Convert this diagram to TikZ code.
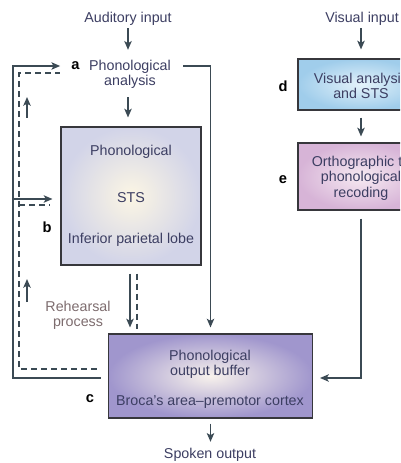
\documentclass[tikz,border=0pt]{standalone}
\usepackage{fontspec}
\setmainfont{Liberation Sans}
\usetikzlibrary{arrows.meta}
\definecolor{lc}{RGB}{59,74,84}
\definecolor{tc}{RGB}{60,62,98}
\definecolor{rc}{RGB}{125,108,110}
\definecolor{bc}{RGB}{55,55,60}
\definecolor{bout}{RGB}{210,212,232}
\definecolor{bin}{RGB}{252,246,228}
\definecolor{cout}{RGB}{160,150,205}
\definecolor{cin}{RGB}{248,242,236}
\definecolor{dout}{RGB}{160,205,235}
\definecolor{din}{RGB}{228,242,250}
\definecolor{eout}{RGB}{215,180,215}
\definecolor{ein}{RGB}{246,234,242}
\begin{document}
\begin{tikzpicture}[x=0.75pt,y=-0.75pt,
  txt/.style={font=\fontsize{10.7}{11.5}\selectfont, text=tc, align=center, inner sep=0pt},
  lab/.style={font=\fontsize{11}{12}\selectfont\bfseries, inner sep=0pt},
  box/.style={draw=bc, line width=0.8pt, rectangle, inner sep=0pt},
  conn/.style={draw=lc, line width=1.4pt},
  arr/.style={conn, -{Stealth[length=6.5pt,width=5.5pt,inset=1.5pt]}},
  dsh/.style={conn, dash pattern=on 4.5pt off 3pt}]
\useasboundingbox (0,0) rectangle (400,463);
\clip (0,0) rectangle (400,463);
% boxes
\node[box, minimum width=105pt, minimum height=103.5pt, inner color=bin, outer color=bout] (b) at (131,196) {};
\node[box, minimum width=153pt, minimum height=63pt, inner color=cin, outer color=cout] (c) at (210.5,376) {};
\node[box, minimum width=94.5pt, minimum height=38.25pt, inner color=din, outer color=dout] (d) at (361,84.5) {};
\node[box, minimum width=94.5pt, minimum height=50.25pt, inner color=ein, outer color=eout] (e) at (361,176.5) {};
% texts
\node[txt] (ain) at (128,19) {Auditory input};
\node[txt] (pa) at (130,74) {Phonological\\analysis};
\node[txt] (b1) at (131,152) {Phonological};
\node[txt] (b2) at (131,198) {STS};
\node[txt] (b3) at (131,240) {Inferior parietal lobe};
\node[txt] (c1) at (210,364.5) {Phonological\\output buffer};
\node[txt] (c2) at (210,402) {Broca’s area–premotor cortex};
\node[txt] (d1) at (361,86) {Visual analysis\\and STS};
\node[txt] (e1) at (361,178) {Orthographic to\\phonological\\recoding};
\node[txt, text=rc] (reh) at (78,315.5) {Rehearsal\\process};
\node[txt] (sout) at (210,455) {Spoken output};
\node[txt] (vin) at (362,19) {Visual input};
% labels
\node[lab] (la) at (75.5,66) {a};
\node[lab] (lb) at (47,227) {b};
\node[lab] (lcc) at (90,399) {c};
\node[lab] (ld) at (283,86) {d};
\node[lab] (le) at (283,180) {e};
% coordinates
\coordinate (LB) at (13,378);
\coordinate (LT) at (13,66);
\coordinate (SJ) at (13,199);
\coordinate (DB) at (19,369);
\coordinate (DT) at (19,73);
\coordinate (DE) at (60,73);
\coordinate (DJ) at (19,205);
\coordinate (U1a) at (27,118);
\coordinate (U1b) at (27,97);
\coordinate (U2a) at (27,302);
\coordinate (U2b) at (27,279);
\coordinate (R) at (361,378);
% connectors
\draw[arr, shorten <=1.7pt, shorten >=7.2pt] (ain.south) -- (ain.south |- pa.north);
\draw[arr, shorten <=6.5pt, shorten >=6.75pt] (ain.south |- pa.south) -- (ain.south |- b.north);
\draw[arr, shorten <=9pt, shorten >=4.5pt] (pa.east |- la) -| (c.north);
\draw[arr, shorten <=5.25pt, shorten >=8.25pt] ([yshift=-1.5pt]c.west) -- (LB) -- (LT) -- (la.west);
\draw[arr, shorten >=6pt] (SJ) -- (SJ -| b.west);
\draw[dsh, shorten <=8.25pt] ([yshift=5.25pt]c.west) -- (DB) -- (DT) -- (DE);
\draw[dsh, shorten >=8.25pt] (DJ) -- (DJ -| b.west);
\draw[arr] (U1a) -- (U1b);
\draw[arr] (U2a) -- (U2b);
\draw[arr, shorten <=6pt, shorten >=4.5pt] ([xshift=-0.75pt]b.south) -- ([xshift=-0.75pt]b.south |- c.north);
\draw[dsh, shorten <=6pt, shorten >=3pt] ([xshift=4.5pt]b.south) -- ([xshift=4.5pt]b.south |- c.north);
\draw[arr, shorten <=1.7pt, shorten >=6.75pt] (d.north |- vin.south) -- (d.north);
\draw[arr, shorten <=5.25pt, shorten >=4.5pt] (d.south) -- (e.north);
\draw[arr, shorten <=6pt, shorten >=5.25pt] (e.south) -- (R) -- (R -| c.east);
\draw[arr, shorten <=3.75pt, shorten >=4.7pt] (c.south) -- (c.south |- sout.north);
\end{tikzpicture}
\end{document}
